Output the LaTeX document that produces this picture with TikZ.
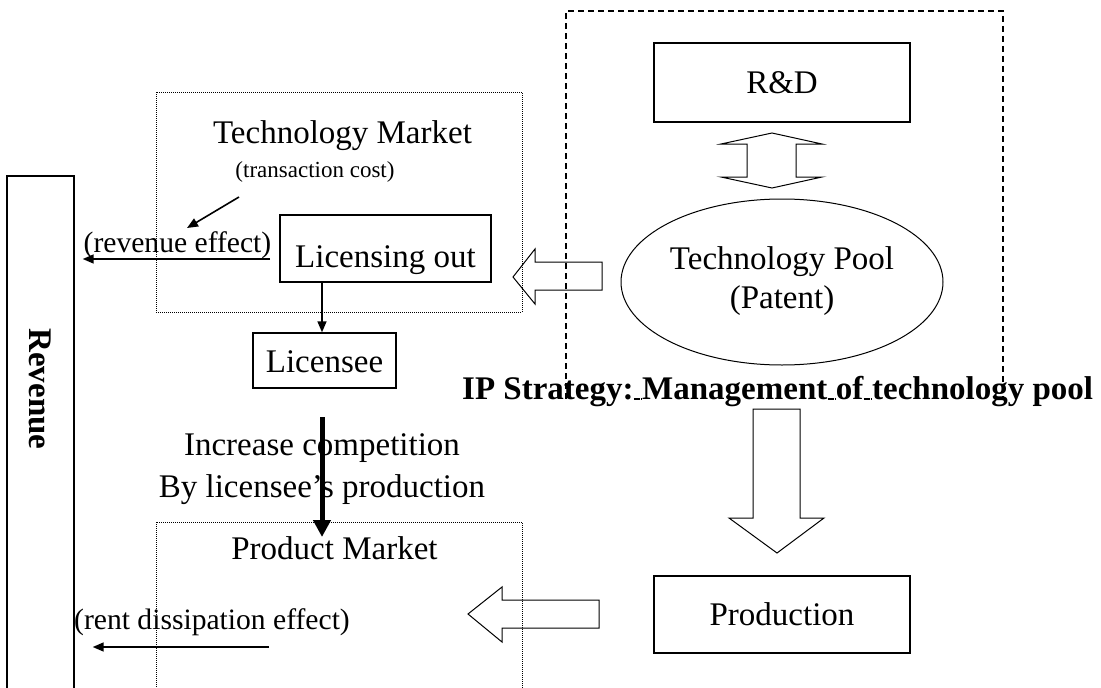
\documentclass[tikz,border=0pt]{standalone}
\usepackage{fontspec}
\setmainfont{Liberation Serif}
\usetikzlibrary{arrows.meta,shapes.geometric}
\begin{document}
\begin{tikzpicture}[x=1pt,y=-1pt,
 box/.style={draw,line width=1.4pt,inner sep=0pt},
 txt/.style={font=\fontsize{33}{39}\selectfont,inner sep=0pt,anchor=base},
 small/.style={font=\fontsize{29.6}{35}\selectfont,inner sep=0pt,anchor=base},
 bold/.style={font=\fontsize{33}{39}\selectfont\bfseries,inner sep=0pt},
 word/.style={bold,anchor=base west},
 dotbox/.style={line width=0.8pt,dash pattern=on 1pt off 1pt},
 dashbox/.style={line width=1.1pt,dash pattern=on 6pt off 4pt},
 thin/.style={line width=1.6pt,-{Triangle[length=11pt,width=9pt]}},
 thick/.style={line width=5pt,-{Triangle[length=17pt,width=17pt]}},
 hollow/.style={line width=1pt,line join=miter},
]
\useasboundingbox (0,0) rectangle (1101,688);
% frames
\draw[dashbox] (566,399) -- (566,11) -- (1003,11) -- (1003,399);
\draw[dotbox] (156,92) rectangle (522,312);
\draw[dotbox] (156,522) rectangle (522,700);
% boxes
\node[box,minimum width=256pt,minimum height=79pt] (rd) at (782,82.5) {};
\node[txt] (rdT) at (782,93) {R\&D};
\node[draw,ellipse,line width=1pt,minimum width=322pt,minimum height=166pt,inner sep=0pt] (pool) at (782,282) {};
\node[txt] (poolT1) at (782,269) {Technology Pool};
\node[txt] (poolT2) at (782,308) {(Patent)};
\node[box,minimum width=211pt,minimum height=67pt] (lic) at (385.5,248.5) {};
\node[txt] (licT) at (385.5,267) {Licensing out};
\node[box,minimum width=143pt,minimum height=55pt] (lice) at (324.5,360.5) {};
\node[txt] (liceT) at (324.5,372) {Licensee};
\node[box,minimum width=256pt,minimum height=77pt] (prod) at (782,614.5) {};
\node[txt] (prodT) at (782,625) {Production};
\node[box,minimum width=67pt,minimum height=524pt] (rev) at (40.5,438) {};
\node[bold,rotate=-90] (revT) at (40.5,389) {Revenue};
% texts
\node[txt] (tm) at (342.5,143) {Technology Market};
\node[font=\fontsize{23}{28}\selectfont,inner sep=0pt,anchor=base] (tc) at (315,177) {(transaction cost)};
\node[small] (re) at (177.5,252) {(revenue effect)};
\node[small] (rde) at (212,629) {(rent dissipation effect)};
\node[txt] (ic1) at (322,455) {Increase competition};
\node[txt] (ic2) at (322,497) {By licensee’s production};
\node[txt] (pm) at (334.5,559) {Product Market};
% IP strategy label, word by word (the frame's lower edge shows in the gaps)
\node[word] (w1) at (462,399) {IP Strategy:};
\node[word] (w2) at ([xshift=8.25pt]w1.base east) {Management};
\node[word] (w3) at ([xshift=8.25pt]w2.base east) {of};
\node[word] (w4) at ([xshift=8.25pt]w3.base east) {technology pool};
\draw[dashbox,dash pattern=on 6pt off 1pt] (w1.base east) -- (w2.base west);
\draw[dashbox,dash pattern=on 6pt off 1pt] (w2.base east) -- (w3.base west);
\draw[dashbox,dash pattern=on 6pt off 1pt] (w3.base east) -- (w4.base west);
% hollow arrows
\draw[hollow] (513,277) -- (535,249) -- (535,262) -- (602,262) -- (602,290) -- (535,290) -- (535,304) -- cycle;
\draw[hollow] (468,614) -- (502,587) -- (502,600) -- (599,600) -- (599,628) -- (502,628) -- (502,642) -- cycle;
\draw[hollow] (753,409) -- (800,409) -- (800,518) -- (824,518) -- (777,553) -- (729,518) -- (753,518) -- cycle;
\draw[hollow] (772,133) -- (822,144) -- (796,144) -- (796,177) -- (822,177) -- (772,188) -- (721,177) -- (747,177) -- (747,144) -- (721,144) -- cycle;
% thin arrows
\coordinate (a1s) at (270,259);
\draw[thin,shorten >=8pt] (a1s) -- (rev.east |- a1s);
\coordinate (dgs) at (239,197);
\coordinate (dge) at (187,228);
\draw[thin] (dgs) -- (dge);
\coordinate (lx) at (322,0);
\draw[thin] (lic.south -| lx) -- (lice.north -| lx);
\coordinate (a3s) at (269,647);
\draw[thin,shorten >=18pt] (a3s) -- (rev.east |- a3s);
\coordinate (ts) at (322,417);
\coordinate (te) at (322,537);
\draw[thick] (ts) -- (te);
\end{tikzpicture}
\end{document}
